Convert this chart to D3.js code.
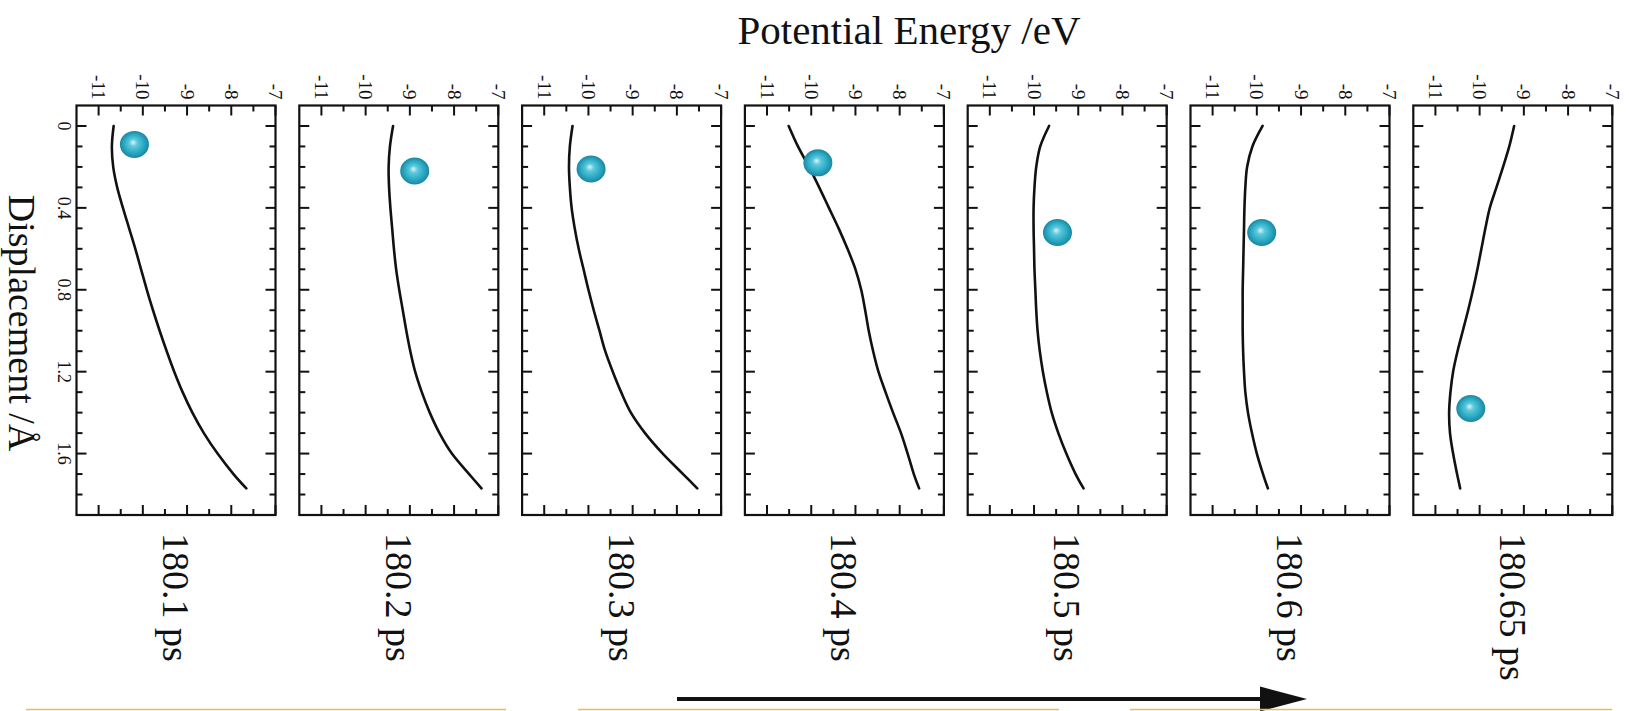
<!DOCTYPE html>
<html>
<head>
<meta charset="utf-8">
<script src="https://cdn.jsdelivr.net/npm/d3@7"></script>
<style>
  html, body { margin: 0; padding: 0; background: #fff; }
  svg { display: block; }
  text { font-family: "Liberation Serif", "DejaVu Serif", serif; fill: #111; }
</style>
</head>
<body>
<svg id="chart" width="1629" height="711"></svg>
<script>
// Snapshot times, one panel each
const snapshots = ["180.1 ps", "180.2 ps", "180.3 ps", "180.4 ps", "180.5 ps", "180.6 ps", "180.65 ps"];

// Energy axis (eV) and displacement axis (Å) ticks
const energyTicks = [-11, -10, -9, -8, -7];
const energyMinorTicks = [-11, -10.5, -10, -9.5, -9, -8.5, -8, -7.5, -7];
const dispTicks = [0, 0.4, 0.8, 1.2, 1.6];
const dispMinorTicks = [0, 0.1, 0.2, 0.3, 0.4, 0.5, 0.6, 0.7, 0.8, 0.9, 1.0, 1.1, 1.2, 1.3, 1.4, 1.5, 1.6, 1.7, 1.8];

// Displacement grid shared by every energy profile (Å)
const displacement = [0, 0.1, 0.2, 0.3, 0.4, 0.5, 0.6, 0.7, 0.8, 0.9, 1.0, 1.1, 1.2, 1.3, 1.4, 1.5, 1.6, 1.7, 1.77];

// Potential energy profiles (eV) along the displacement grid
const energy_1801 = [-10.66, -10.70, -10.67, -10.58, -10.45, -10.31, -10.17, -10.04, -9.91, -9.77, -9.62, -9.46, -9.29, -9.10, -8.88, -8.62, -8.31, -7.95, -7.66];
const energy_1802 = [-9.38, -9.45, -9.48, -9.47, -9.44, -9.40, -9.36, -9.31, -9.24, -9.16, -9.08, -8.99, -8.88, -8.73, -8.55, -8.33, -8.05, -7.66, -7.38];
const energy_1803 = [-10.36, -10.42, -10.44, -10.42, -10.38, -10.31, -10.22, -10.11, -10.00, -9.88, -9.75, -9.62, -9.45, -9.26, -9.04, -8.72, -8.32, -7.86, -7.54];
const energy_1804 = [-10.51, -10.30, -10.05, -9.82, -9.60, -9.38, -9.18, -9.00, -8.87, -8.78, -8.70, -8.60, -8.48, -8.32, -8.15, -7.97, -7.82, -7.68, -7.56];
const energy_1805 = [-9.66, -9.86, -9.95, -9.99, -10.01, -10.01, -10.00, -9.99, -9.97, -9.95, -9.92, -9.87, -9.80, -9.71, -9.60, -9.45, -9.27, -9.06, -8.88];
const energy_1806 = [-9.87, -10.10, -10.22, -10.26, -10.28, -10.29, -10.30, -10.31, -10.32, -10.32, -10.32, -10.31, -10.29, -10.26, -10.20, -10.11, -10.00, -9.86, -9.75];
const energy_18065 = [-9.22, -9.33, -9.47, -9.62, -9.77, -9.87, -9.96, -10.05, -10.15, -10.26, -10.38, -10.50, -10.60, -10.66, -10.69, -10.67, -10.60, -10.51, -10.44];

// Atom marker for each snapshot: energy (eV) and displacement (Å)
const atomEnergy = [-10.19, -8.89, -9.94, -9.85, -9.47, -9.89, -10.20];
const atomDisp = [0.09, 0.22, 0.21, 0.18, 0.52, 0.52, 1.38];

const profiles = [energy_1801, energy_1802, energy_1803, energy_1804, energy_1805, energy_1806, energy_18065];

// ---- layout ----
const panelLeft = 76.5, panelStep = 222.8, panelW = 199;
const panelTop = 105.5, panelBottom = 515;
const majorLen = 10, minorLen = 6;

const svg = d3.select("#chart");

const defs = svg.append("defs");
const grad = defs.append("radialGradient")
  .attr("id", "atomShade").attr("cx", "50%").attr("cy", "50%").attr("r", "50%")
  .attr("fx", "45%").attr("fy", "42%");
grad.append("stop").attr("offset", "0%").attr("stop-color", "#d8f4f8");
grad.append("stop").attr("offset", "28%").attr("stop-color", "#5cc8dc");
grad.append("stop").attr("offset", "70%").attr("stop-color", "#29a8c2");
grad.append("stop").attr("offset", "100%").attr("stop-color", "#1b86a0");

const innerH = panelBottom - panelTop;
const x = d3.scaleLinear().domain([-11.5, -7]).range([0, panelW]);
const y = d3.scaleLinear().domain([-0.1, 1.9]).range([0, innerH]);

const line = d3.line()
  .x(d => x(d[1]))
  .y(d => y(d[0]))
  .curve(d3.curveCatmullRom.alpha(0.5));

snapshots.forEach((label, i) => {
  const left = panelLeft + i * panelStep;
  const g = svg.append("g").attr("transform", `translate(${left},${panelTop})`);

  // inward ticks on all four sides
  const tickGroup = g.append("g").attr("stroke", "#111").attr("stroke-width", 2);
  energyMinorTicks.forEach(v => {
    const len = energyTicks.includes(v) ? majorLen : minorLen;
    tickGroup.append("line").attr("x1", x(v)).attr("x2", x(v)).attr("y1", 0).attr("y2", len);
    tickGroup.append("line").attr("x1", x(v)).attr("x2", x(v)).attr("y1", innerH).attr("y2", innerH - len);
  });
  dispMinorTicks.forEach(v => {
    const len = dispTicks.some(t => Math.abs(t - v) < 1e-9) ? majorLen : minorLen;
    tickGroup.append("line").attr("y1", y(v)).attr("y2", y(v)).attr("x1", 0).attr("x2", len);
    tickGroup.append("line").attr("y1", y(v)).attr("y2", y(v)).attr("x1", panelW).attr("x2", panelW - len);
  });

  // frame
  g.append("rect").attr("x", 0).attr("y", 0).attr("width", panelW).attr("height", innerH)
    .attr("fill", "none").attr("stroke", "#111").attr("stroke-width", 2.2);

  // energy tick labels, rotated
  energyTicks.forEach(v => {
    g.append("text")
      .attr("transform", `translate(${x(v)},-6) rotate(90)`)
      .attr("text-anchor", "end")
      .attr("dominant-baseline", "central")
      .attr("font-size", 19)
      .text(d3.format("d")(v).replace("−", "-"));
  });

  // displacement tick labels on the first panel only
  if (i === 0) {
    dispTicks.forEach(v => {
      g.append("text")
        .attr("transform", `translate(-13,${y(v)}) rotate(90)`)
        .attr("text-anchor", "middle")
        .attr("dominant-baseline", "central")
        .attr("font-size", 18)
        .text(v === 0 ? "0" : d3.format(".1f")(v));
    });
  }

  // energy profile
  const pts = displacement.map((d, k) => [d, profiles[i][k]]);
  g.append("path").datum(pts)
    .attr("d", line)
    .attr("fill", "none").attr("stroke", "#111").attr("stroke-width", 2.6)
    .attr("stroke-linecap", "round");

  // atom marker
  g.append("ellipse")
    .attr("cx", x(atomEnergy[i])).attr("cy", y(atomDisp[i]))
    .attr("rx", 14.5).attr("ry", 13.5)
    .attr("fill", "url(#atomShade)");

  // snapshot time label
  svg.append("text")
    .attr("transform", `translate(${left + panelW / 2},533) rotate(90)`)
    .attr("text-anchor", "start")
    .attr("dominant-baseline", "central")
    .attr("font-size", 38)
    .text(label);
});

// axis titles
svg.append("text")
  .attr("x", 909).attr("y", 44)
  .attr("text-anchor", "middle")
  .attr("font-size", 41)
  .text("Potential Energy /eV");

svg.append("text")
  .attr("transform", "translate(22,323) rotate(90)")
  .attr("text-anchor", "middle")
  .attr("dominant-baseline", "central")
  .attr("font-size", 38)
  .text("Displacement /Å");

// time arrow
svg.append("line")
  .attr("x1", 677).attr("x2", 1264).attr("y1", 699).attr("y2", 699)
  .attr("stroke", "#111").attr("stroke-width", 4);
svg.append("path")
  .attr("d", d3.line()([[1260, 686.5], [1307, 699], [1260, 711.5]]) + "Z")
  .attr("fill", "#111");

// thin rules along the bottom edge
[[26, 506], [578, 1059], [1130, 1612]].forEach(([a, b]) => {
  svg.append("line").attr("x1", a).attr("x2", b).attr("y1", 709.5).attr("y2", 709.5)
    .attr("stroke", "#f2bd3c").attr("stroke-width", 1.5);
});
</script>
</body>
</html>
